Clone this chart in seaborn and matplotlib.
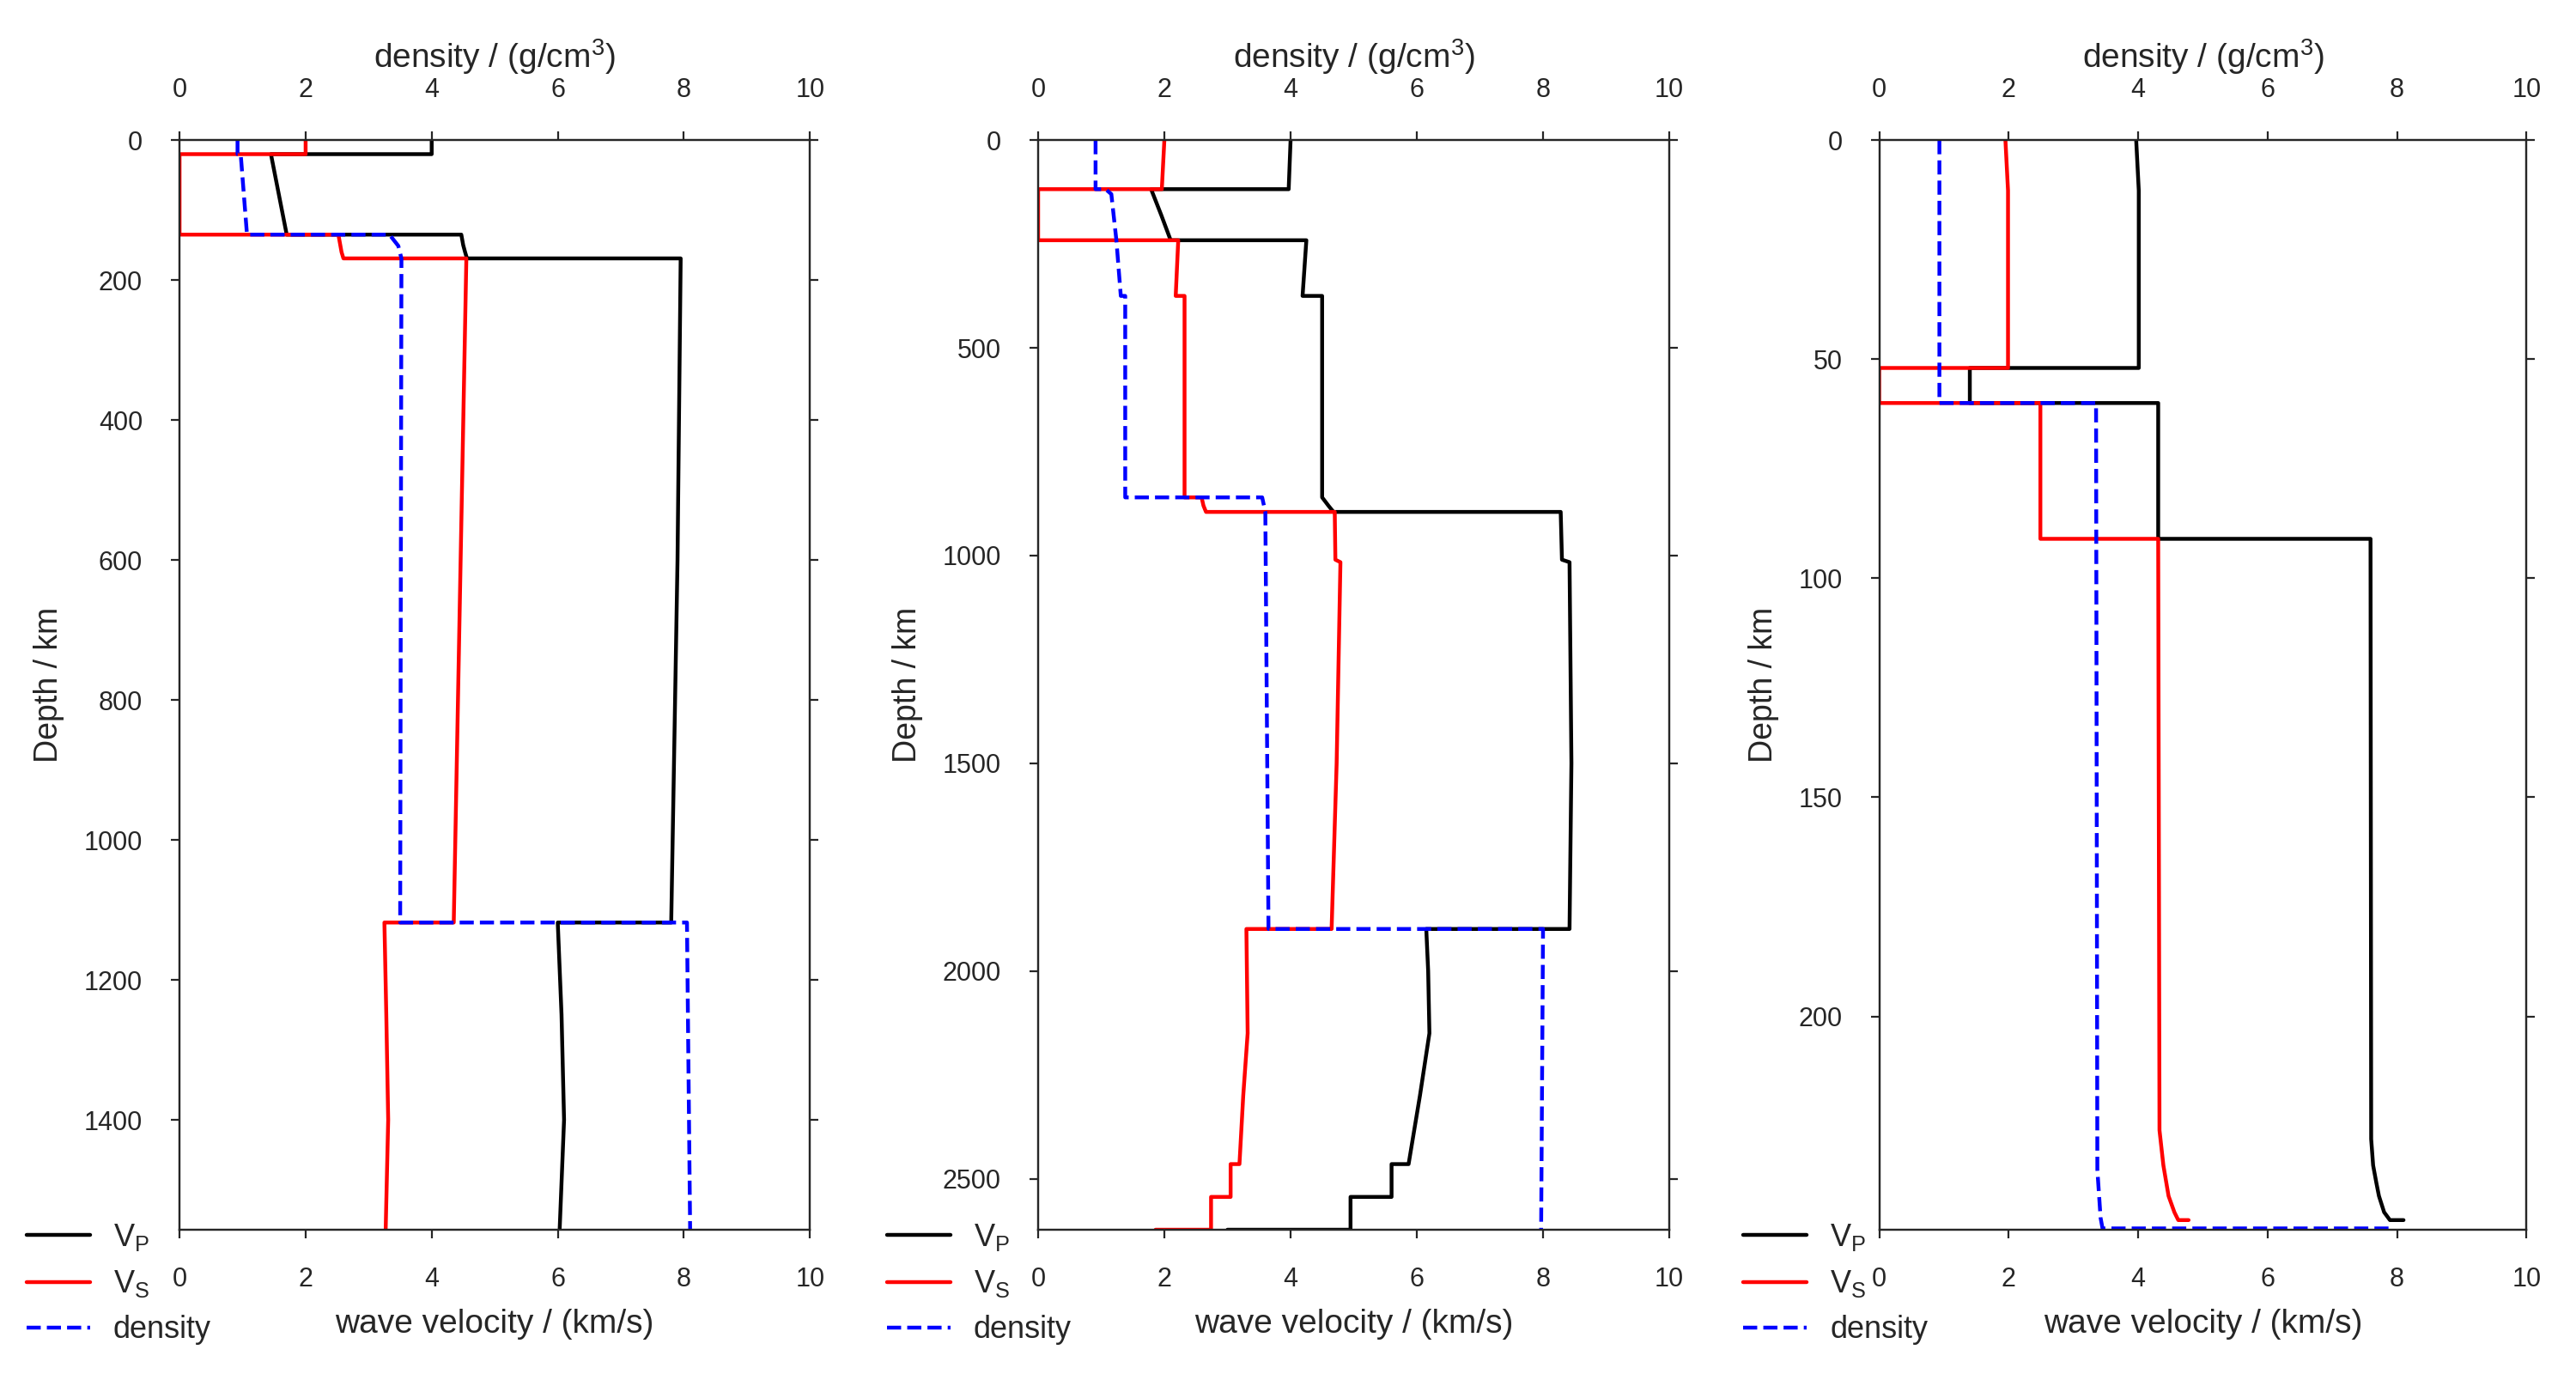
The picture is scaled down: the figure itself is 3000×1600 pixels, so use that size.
import numpy as np
import matplotlib
matplotlib.use('Agg')
import matplotlib.pyplot as plt
from matplotlib.ticker import MultipleLocator
import seaborn as sns

# ---- panel 1 ----
a_vp_depth = [0, 20, 20, 135, 135, 150, 160, 169, 169, 600, 1118, 1118, 1250, 1400, 1557]
a_vp = [4.0, 4.0, 1.45, 1.7, 4.47, 4.5, 4.53, 4.56, 7.95, 7.9, 7.8, 6.0, 6.06, 6.1, 6.03]
a_vs_depth = [0, 20, 20, 135, 135, 150, 160, 169, 169, 1118, 1118, 1250, 1400, 1557]
a_vs = [2.0, 2.0, 0.0, 0.0, 2.52, 2.55, 2.57, 2.6, 4.55, 4.35, 3.25, 3.28, 3.31, 3.27]
a_rho_depth = [0, 20, 20, 135, 135, 151, 169, 1118, 1118, 1557]
a_rho = [0.92, 0.92, 0.97, 1.07, 3.33, 3.47, 3.52, 3.5, 8.05, 8.1]

# ---- panel 2 ----
b_vp_depth = [0, 118, 118, 180, 241, 241, 375, 375, 860, 880, 895, 895, 1010, 1016, 1500,
              1899, 1899, 2000, 2150, 2300, 2465, 2465, 2544, 2544, 2623, 2623]
b_vp = [4.0, 3.97, 1.79, 1.95, 2.1, 4.25, 4.19, 4.5, 4.5, 4.6, 4.68, 8.28, 8.3, 8.42, 8.45,
        8.42, 6.15, 6.18, 6.2, 6.05, 5.87, 5.6, 5.6, 4.95, 4.95, 3.0]
b_vs_depth = [0, 118, 118, 241, 241, 375, 375, 860, 860, 880, 895, 895, 1010, 1016, 1500,
              1899, 1899, 2150, 2300, 2465, 2465, 2544, 2544, 2623, 2623]
b_vs = [2.0, 1.96, 0.0, 0.0, 2.22, 2.18, 2.32, 2.32, 2.59, 2.62, 2.66, 4.7, 4.71, 4.79, 4.73,
        4.65, 3.3, 3.32, 3.25, 3.19, 3.05, 3.05, 2.74, 2.74, 1.86]
b_rho_depth = [0, 118, 118, 130, 241, 375, 375, 860, 860, 895, 1899, 1899, 2623]
b_rho = [0.91, 0.91, 1.07, 1.16, 1.24, 1.31, 1.38, 1.38, 3.55, 3.6, 3.65, 8.0, 7.97]

# ---- panel 3 ----
c_vp_depth = [0, 11.5, 52, 52, 60, 60, 91, 91, 228, 234, 238, 241, 244.7, 246.5, 246.5]
c_vp = [3.97, 4.01, 4.01, 1.4, 1.4, 4.31, 4.31, 7.59, 7.6, 7.63, 7.68, 7.72, 7.8, 7.89, 8.1]
c_vs_depth = [0, 11.5, 52, 52, 60, 60, 91, 91, 226, 234, 241, 244.7, 246.5, 246.5]
c_vs = [1.95, 1.99, 1.99, 0.0, 0.0, 2.49, 2.49, 4.31, 4.33, 4.39, 4.47, 4.56, 4.62, 4.78]
c_rho_depth = [0, 60, 60, 235, 246, 248.4, 248.4]
c_rho = [0.93, 0.93, 3.35, 3.37, 3.42, 3.45, 7.96]

panels = [
    (a_vp_depth, a_vp, a_vs_depth, a_vs, a_rho_depth, a_rho, 1557, 200),
    (b_vp_depth, b_vp, b_vs_depth, b_vs, b_rho_depth, b_rho, 2623, 500),
    (c_vp_depth, c_vp, c_vs_depth, c_vs, c_rho_depth, c_rho, 248.7, 50),
]
positions = [[0.0697, 0.105, 0.2447, 0.793],
             [0.4030, 0.105, 0.2450, 0.793],
             [0.7295, 0.105, 0.2513, 0.793]]
legend_x = [-0.243, -0.24, -0.21]

sns.set_style('ticks')
plt.rcParams['font.family'] = ['Liberation Sans', 'DejaVu Sans']
plt.rcParams['mathtext.default'] = 'regular'
plt.rcParams['font.size'] = 11

fig = plt.figure(figsize=(15, 8), dpi=200)

for i, (dvp, vp, dvs, vs, drho, rho, ymax, ystep) in enumerate(panels):
    ax = fig.add_axes(positions[i])
    ax2 = ax.twiny()
    sns.lineplot(x=vp, y=dvp, ax=ax, sort=False, estimator=None, color='k', lw=1.6, label='$V_P$')
    sns.lineplot(x=vs, y=dvs, ax=ax, sort=False, estimator=None, color='r', lw=1.6, label='$V_S$')
    sns.lineplot(x=rho, y=drho, ax=ax2, sort=False, estimator=None, color='b', lw=1.6,
                 linestyle='--', label='density')
    for a in (ax, ax2):
        a.set_xlim(0, 10)
        a.xaxis.set_major_locator(MultipleLocator(2))
        if a.get_legend() is not None:
            a.get_legend().remove()
    ax.set_ylim(ymax, 0)
    ax.yaxis.set_major_locator(MultipleLocator(ystep))
    ax.tick_params(axis='y', right=True, labelsize=11, pad=12)
    ax.tick_params(axis='x', labelsize=11, pad=12)
    ax2.tick_params(axis='x', labelsize=11, pad=12)
    ax.set_xlabel('wave velocity / (km/s)', fontsize=14, labelpad=7)
    ax2.set_xlabel('density / (g/cm$^3$)', fontsize=14)
    ax.set_ylabel('Depth / km', fontsize=13.5, labelpad=8)

    h1, l1 = ax.get_legend_handles_labels()
    h2, l2 = ax2.get_legend_handles_labels()
    ax.legend(h1 + h2, l1 + l2, loc='upper left', bbox_to_anchor=(legend_x[i], 0.007),
              frameon=False, borderaxespad=0, borderpad=0, handlelength=2.05,
              handletextpad=0.75, fontsize=13)

fig.savefig('out.png', dpi=200)
